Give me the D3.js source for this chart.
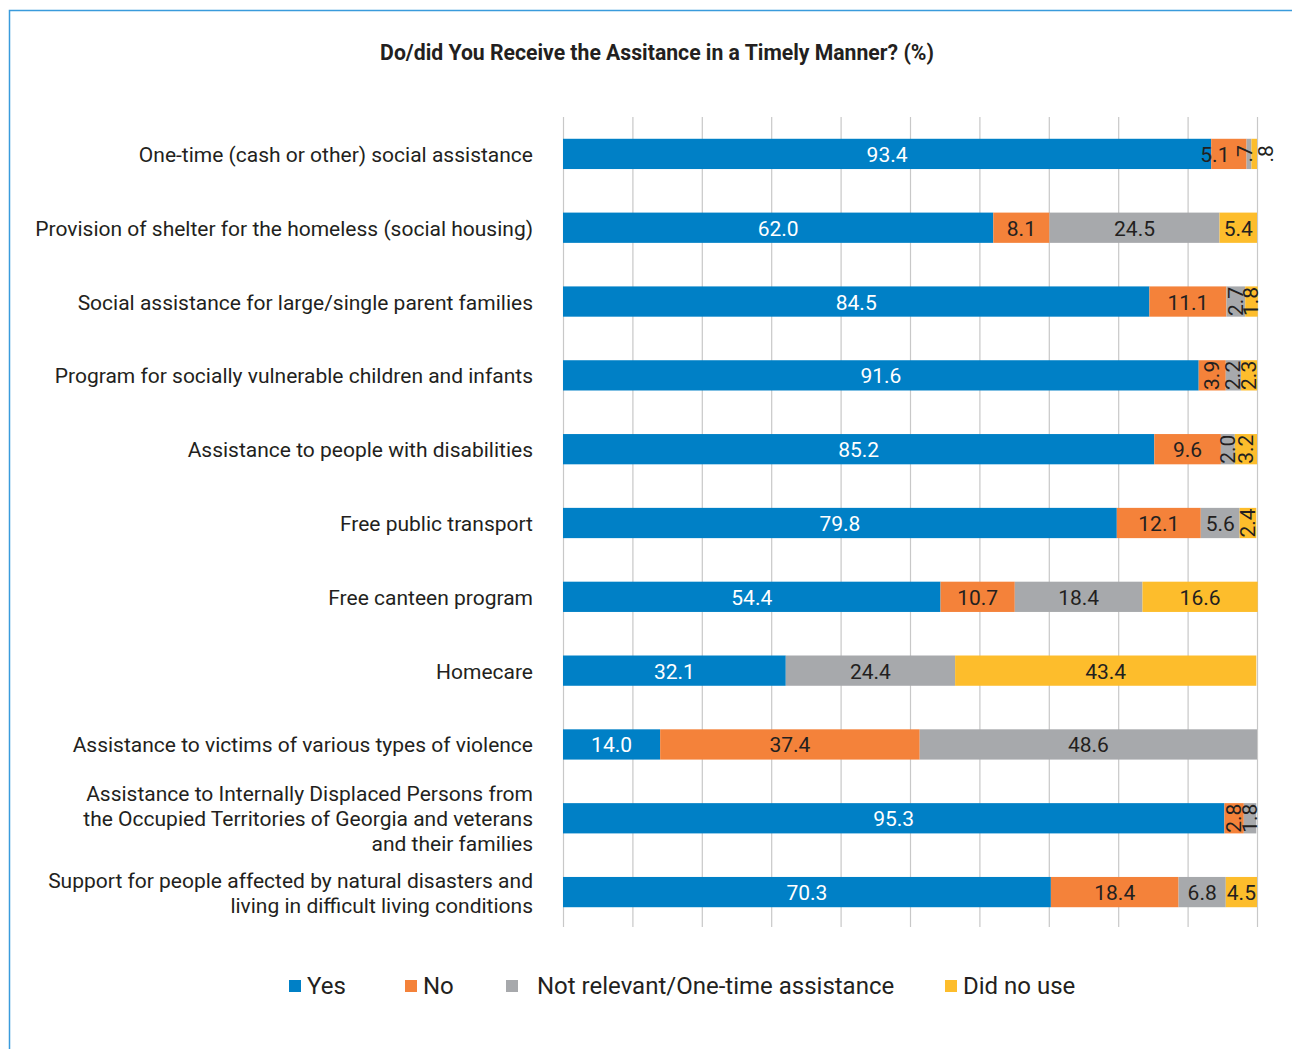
<!DOCTYPE html>
<html>
<head>
<meta charset="utf-8">
<script src="https://cdn.jsdelivr.net/npm/d3@7"></script>
<style>
  html, body { margin: 0; padding: 0; background: #fff; }
  svg { display: block; }
  text { font-family: Roboto, "Noto Sans", sans-serif; }
</style>
</head>
<body>
<svg id="chart" width="1292" height="1049"></svg>
<script>
// Survey rows (top to bottom); "\n" marks a line break in the row label
const categories = [
  "One-time (cash or other) social assistance",
  "Provision of shelter for the homeless (social housing)",
  "Social assistance for large/single parent families",
  "Program for socially vulnerable children and infants",
  "Assistance to people with disabilities",
  "Free public transport",
  "Free canteen program",
  "Homecare",
  "Assistance to victims of various types of violence",
  "Assistance to Internally Displaced Persons from\nthe Occupied Territories of Georgia and veterans\nand their families",
  "Support for people affected by natural disasters and\nliving in difficult living conditions"
];

const seriesNames = ["Yes", "No", "Not relevant/One-time assistance", "Did no use"];

// Shares in percent, one array per answer
const yesValues         = [93.4, 62.0, 84.5, 91.6, 85.2, 79.8, 54.4, 32.1, 14.0, 95.3, 70.3];
const noValues          = [5.1, 8.1, 11.1, 3.9, 9.6, 12.1, 10.7, 0, 37.4, 2.8, 18.4];
const notRelevantValues = [0.7, 24.5, 2.7, 2.2, 2.0, 5.6, 18.4, 24.4, 48.6, 1.8, 6.8];
const didNotUseValues   = [0.8, 5.4, 1.8, 2.3, 3.2, 2.4, 16.6, 43.4, 0, 0, 4.5];

const xTicks = [0, 10, 20, 30, 40, 50, 60, 70, 80, 90, 100];

const colors = ["#0080c6", "#f4823a", "#a7a9ac", "#fdbd2c"];
const labelColors = ["#ffffff", "#231f20", "#231f20", "#231f20"];

const svg = d3.select("#chart");

// frame lines (top and left)
svg.append("path")
  .attr("d", "M9.5,1049 L9.5,10.5 L1292,10.5")
  .attr("fill", "none")
  .attr("stroke", "#3a9bdc")
  .attr("stroke-width", 1.5);

// title
svg.append("text")
  .attr("x", 657)
  .attr("y", 60)
  .attr("text-anchor", "middle")
  .attr("font-size", 21.2)
  .attr("font-weight", 700)
  .attr("fill", "#231f20")
  .text("Do/did You Receive the Assitance in a Timely Manner? (%)");

const x = d3.scaleLinear().domain([0, 100]).range([563, 1257]);
const y = d3.scaleBand().domain(categories).range([117, 929])
  .paddingInner(0.59).paddingOuter(0.295);

// vertical gridlines
const grid = svg.append("g")
  .attr("transform", "translate(0,927)")
  .call(d3.axisBottom(x).tickValues(xTicks).tickSize(-810).tickFormat(""));
grid.select(".domain").remove();
grid.selectAll(".tick line").attr("stroke", "#c8c8c8").attr("stroke-width", 1.2);

// stacked data
const rows = categories.map((c, i) => ({
  cat: c,
  v: [yesValues[i], noValues[i], notRelevantValues[i], didNotUseValues[i]]
}));
const segs = [];
rows.forEach(r => {
  let acc = 0;
  r.v.forEach((v, k) => {
    if (v > 0) segs.push({ cat: r.cat, k, v, x0: acc, x1: acc + v, last: r.v.slice(k + 1).every(d => !d) });
    acc += v;
  });
});

svg.append("g").selectAll("rect")
  .data(segs)
  .join("rect")
  .attr("x", d => x(d.x0))
  .attr("y", d => y(d.cat))
  .attr("width", d => x(d.x1) - x(d.x0))
  .attr("height", y.bandwidth())
  .attr("fill", d => colors[d.k]);

// value labels
const fmt = v => v < 1 ? v.toFixed(1).replace(/^0/, "") : v.toFixed(1);
const labels = svg.append("g").attr("font-size", 21);
segs.forEach(d => {
  const w = x(d.x1) - x(d.x0);
  const cy = y(d.cat) + y.bandwidth() / 2;
  let cx = (x(d.x0) + x(d.x1)) / 2;
  const rotated = w < 30;
  let fill = labelColors[d.k];
  if (d.v < 1 && d.last) { cx = x(d.x1) + 9; fill = "#231f20"; }
  else if (d.v < 1) { cx -= 4; }
  const t = labels.append("text")
    .attr("text-anchor", "middle")
    .attr("dominant-baseline", "central")
    .attr("fill", fill)
    .text(fmt(d.v));
  if (rotated) t.attr("transform", `translate(${cx},${cy}) rotate(-90)`);
  else {
    // a narrow neighbour on the right pushes the label left
    const next = segs.find(s => s.cat === d.cat && s.k > d.k);
    const shift = next && next.v < 1 ? 14 : 0;
    t.attr("x", cx - shift).attr("y", cy + 1);
  }
});

// category labels
const catG = svg.append("g").attr("font-size", 21).attr("fill", "#231f20");
categories.forEach(c => {
  const lines = c.split("\n");
  const lh = 25;
  const cy = y(c) + y.bandwidth() / 2;
  const t = catG.append("text")
    .attr("text-anchor", "end")
    .attr("x", 533)
    .attr("y", cy - (lines.length - 1) * lh / 2 + 1)
    .attr("dominant-baseline", "central");
  lines.forEach((ln, i) => {
    t.append("tspan").attr("x", 533).attr("dy", i === 0 ? 0 : lh).text(ln);
  });
});

// legend
const legendX = [289, 405, 506, 945];
const legendTextX = [307, 423, 537, 963];
const leg = svg.append("g");
seriesNames.forEach((n, k) => {
  leg.append("rect")
    .attr("x", legendX[k]).attr("y", 980)
    .attr("width", 12).attr("height", 12)
    .attr("fill", colors[k]);
  leg.append("text")
    .attr("x", legendTextX[k]).attr("y", 986)
    .attr("dominant-baseline", "central")
    .attr("font-size", 24)
    .attr("fill", "#231f20")
    .text(n);
});
</script>
</body>
</html>
